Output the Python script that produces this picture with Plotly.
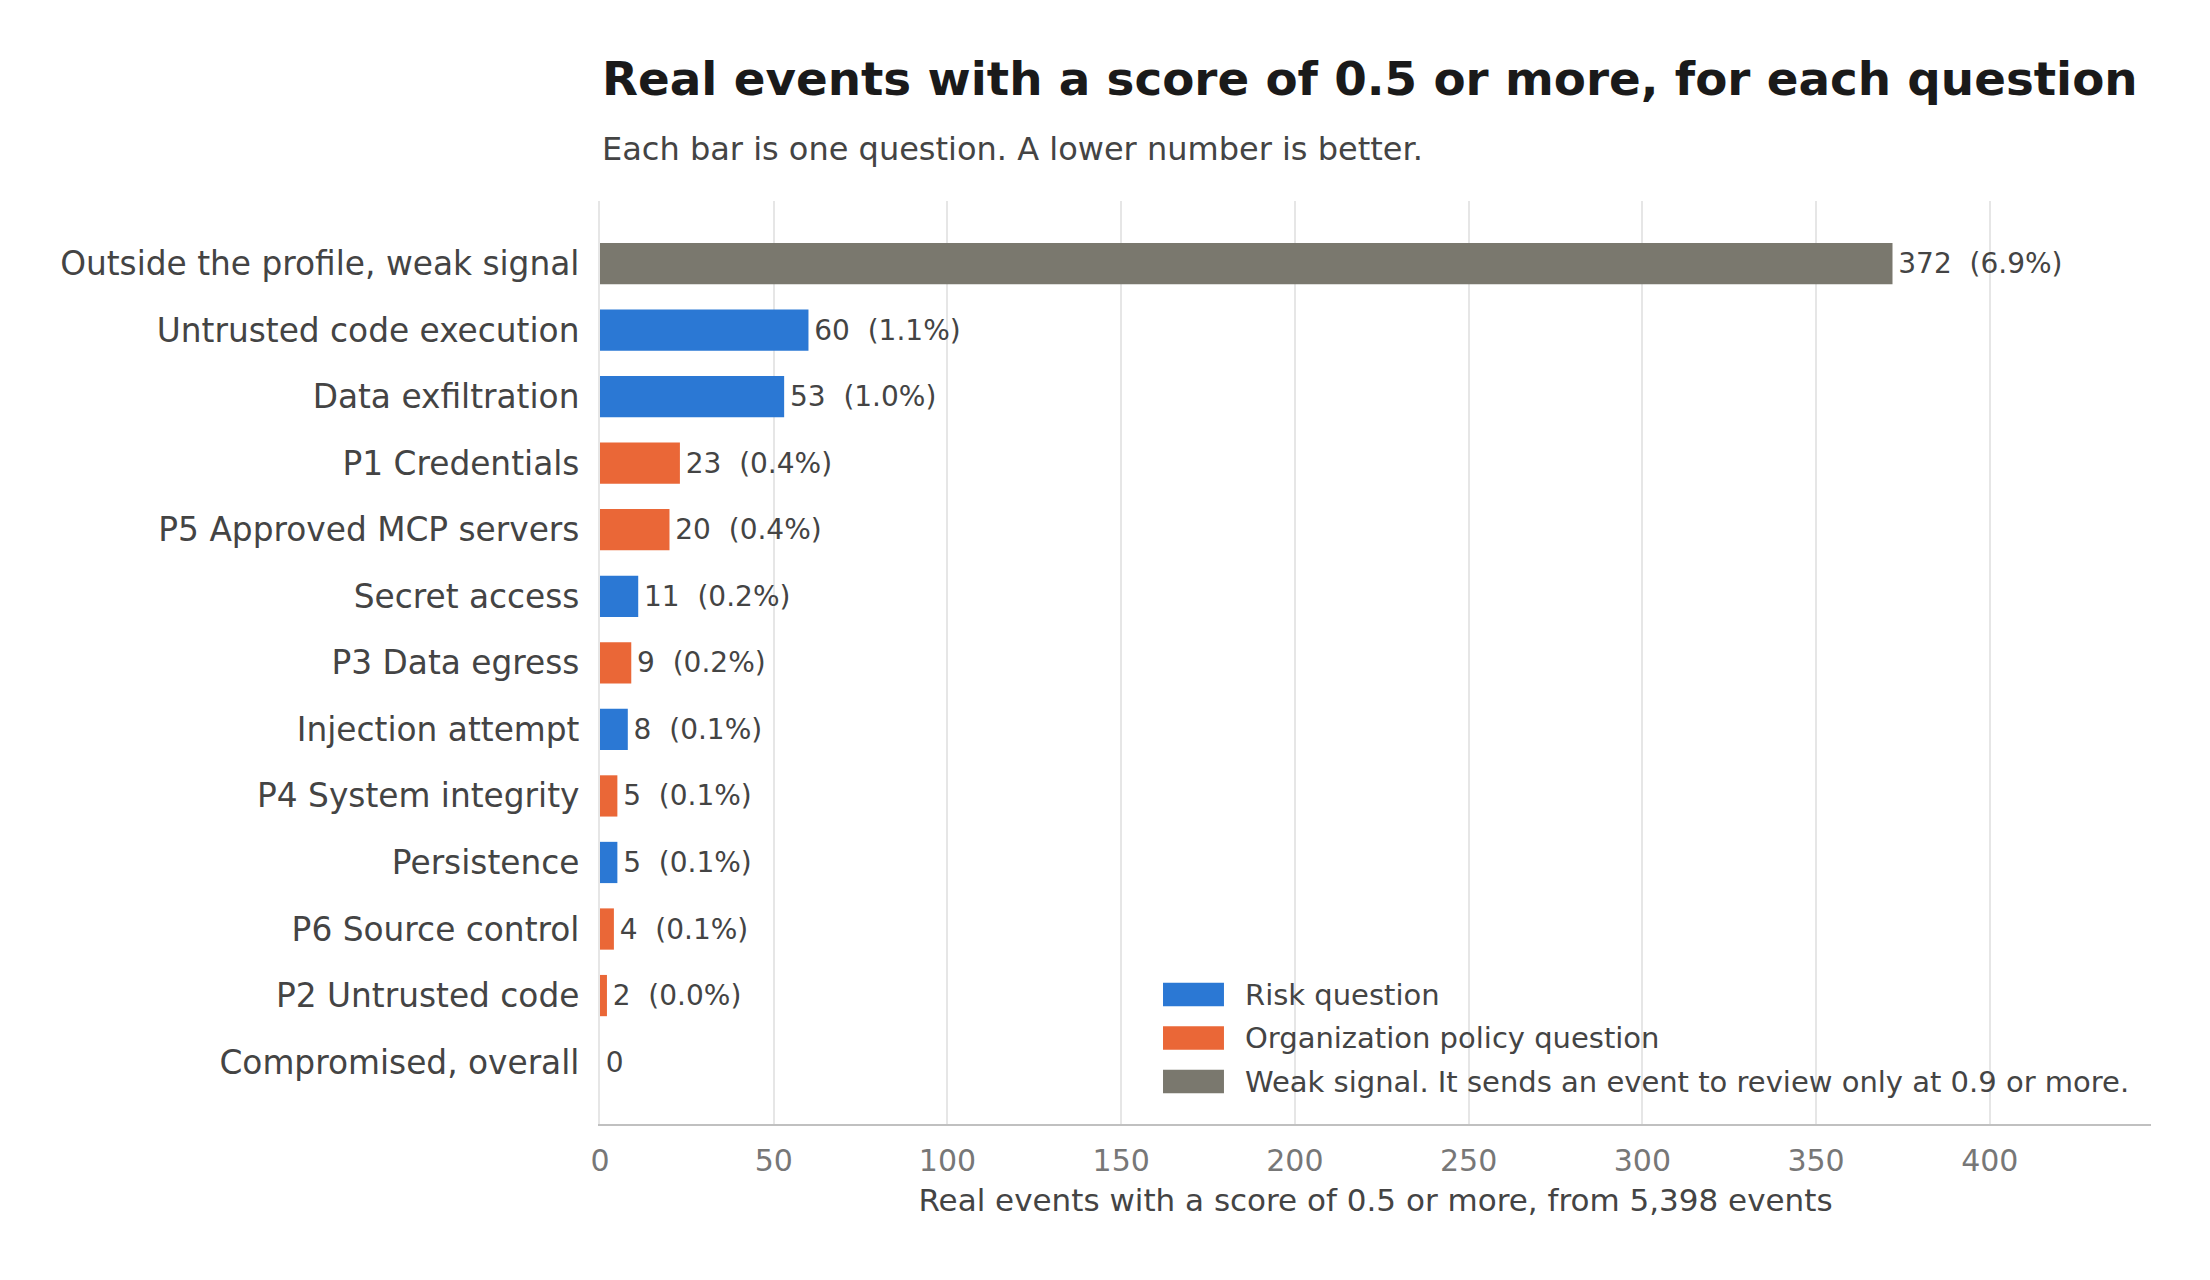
import plotly.graph_objects as go

# categories top to bottom
questions = [
    "Outside the profile, weak signal",
    "Untrusted code execution",
    "Data exfiltration",
    "P1 Credentials",
    "P5 Approved MCP servers",
    "Secret access",
    "P3 Data egress",
    "Injection attempt",
    "P4 System integrity",
    "Persistence",
    "P6 Source control",
    "P2 Untrusted code",
    "Compromised, overall",
]
counts = [372, 60, 53, 23, 20, 11, 9, 8, 5, 5, 4, 2, 0]
pct_labels = ["6.9%", "1.1%", "1.0%", "0.4%", "0.4%", "0.2%", "0.2%", "0.1%", "0.1%", "0.1%", "0.1%", "0.0%", ""]
kinds = ["weak", "risk", "risk", "policy", "policy", "risk", "policy", "risk", "policy", "risk", "policy", "policy", "risk"]

colors = {"risk": "#2b78d4", "policy": "#ea6737", "weak": "#7a786e"}
legend_names = {
    "risk": "Risk question",
    "policy": "Organization policy question",
    "weak": "Weak signal. It sends an event to review only at 0.9 or more.",
}

# two non-breaking spaces, svg would collapse normal ones; hair space for a bit of padding
bar_text = [f"\u200a{c}\u00a0\u00a0({p})" if p else f"\u200a{c}" for c, p in zip(counts, pct_labels)]

fig = go.Figure()
fig.add_trace(go.Bar(
    x=counts, y=questions, orientation="h",
    marker=dict(color=[colors[k] for k in kinds], line=dict(width=0)),
    width=0.62,
    text=bar_text, textposition="outside", cliponaxis=False,
    textfont=dict(size=28, color="#444444"),
    showlegend=False,
))

# legend drawn by hand so the swatches can be wide rectangles
shapes = []
annotations = []
leg_y = [0.1403, 0.0932, 0.0460]
for yy, k in zip(leg_y, ["risk", "policy", "weak"]):
    shapes.append(dict(type="rect", xref="paper", yref="paper",
                       x0=0.363, x1=0.4023, y0=yy - 0.0127, y1=yy + 0.0127,
                       fillcolor=colors[k], line=dict(width=0)))
    annotations.append(dict(xref="paper", yref="paper", x=0.4145, y=yy,
                            xanchor="left", yanchor="middle", showarrow=False,
                            text=legend_names[k], font=dict(size=29, color="#444444")))

annotations.append(dict(xref="paper", yref="paper", x=0, y=1.132, xanchor="left", yanchor="middle",
                        showarrow=False, text="<b>Real events with a score of 0.5 or more, for each question</b>",
                        font=dict(size=46.8, color="#1a1a1a")))
annotations.append(dict(xref="paper", yref="paper", x=0, y=1.0559, xanchor="left", yanchor="middle",
                        showarrow=False, text="Each bar is one question. A lower number is better.",
                        font=dict(size=32, color="#444444")))

fig.update_layout(
    width=2210, height=1280,
    margin=dict(l=592, r=67, t=193, b=164),
    paper_bgcolor="white", plot_bgcolor="white",
    font=dict(family="DejaVu Sans", color="#444444"),
    shapes=shapes, annotations=annotations,
)
fig.update_xaxes(
    range=[0, 372 * 1.2], dtick=50, showgrid=True, gridcolor="#e6e6e6", gridwidth=2,
    zeroline=False, showline=True, linecolor="#c0c0c0", linewidth=2,
    ticks="", tickfont=dict(size=30, color="#777777"), ticklabelstandoff=9,
    title=dict(text="Real events with a score of 0.5 or more, from 5,398 events",
               font=dict(size=31, color="#444444"), standoff=12),
)
fig.update_yaxes(
    range=[12.93, -0.94], showgrid=False, zeroline=False,
    showline=True, linecolor="#e6e6e6", linewidth=2,
    ticks="", tickfont=dict(size=32.8, color="#444444"), ticklabelstandoff=12,
)

fig.write_html("out.html")
